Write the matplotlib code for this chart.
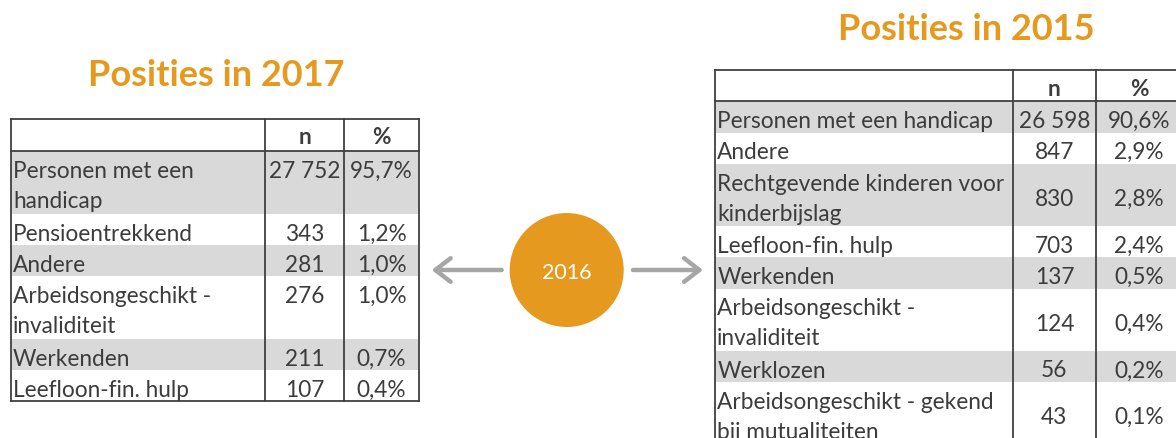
import matplotlib
matplotlib.use("Agg")
import matplotlib.pyplot as plt
from matplotlib.patches import Rectangle, Circle, FancyArrowPatch

plt.rcParams['font.family'] = ['Lato', 'DejaVu Sans']

# ---- data ----
title_2017 = "Posities in 2017"
labels_2017 = ["Personen met een\nhandicap", "Pensioentrekkend", "Andere",
               "Arbeidsongeschikt -\ninvaliditeit", "Werkenden", "Leefloon-fin. hulp"]
n_2017 = [27752, 343, 281, 276, 211, 107]
pct_2017 = [95.7, 1.2, 1.0, 1.0, 0.7, 0.4]

title_2015 = "Posities in 2015"
labels_2015 = ["Personen met een handicap", "Andere",
               "Rechtgevende kinderen voor\nkinderbijslag", "Leefloon-fin. hulp",
               "Werkenden", "Arbeidsongeschikt -\ninvaliditeit", "Werklozen",
               "Arbeidsongeschikt - gekend\nbij mutualiteiten"]
n_2015 = [26598, 847, 830, 703, 137, 124, 56, 43]
pct_2015 = [90.6, 2.9, 2.8, 2.4, 0.5, 0.4, 0.2, 0.1]

header_cols = ["n", "%"]
middle_year = "2016"

# ---- style ----
ORANGE = "#E59A1F"
TEXT = "#3C3C3C"
SHADE = "#D9D9D9"
BORDER = "#404040"
ARROW = "#A6A6A6"
BODY_FS = 16.3
TITLE_FS = 26
W, H = 1176, 439

fig = plt.figure(figsize=(W / 100, H / 100), dpi=100)
ax = fig.add_axes([0, 0, 1, 1])
ax.set_xlim(0, W)
ax.set_ylim(H, 0)
ax.axis('off')


def fmt_n(v):
    return f"{v:,}".replace(",", " ")


def fmt_pct(v):
    return f"{v:.1f}%".replace(".", ",")


def draw_table(x0, c1, c2, x1, top, header_h, line_h, labels, ns, pcts,
               num_valign):
    y = top + header_h
    ax.text((c1 + c2) / 2, top + 25, header_cols[0], ha='center', va='baseline',
            fontsize=BODY_FS, fontweight='bold', color=TEXT)
    ax.text((c2 + x1) / 2, top + 25, header_cols[1], ha='center', va='baseline',
            fontsize=BODY_FS, fontweight='bold', color=TEXT)
    for i, (lab, n, p) in enumerate(zip(labels, ns, pcts)):
        lines = lab.split("\n")
        rh = line_h * len(lines)
        if i % 2 == 0:
            ax.add_patch(Rectangle((x0, y), x1 - x0, rh, facecolor=SHADE,
                                   edgecolor='none', zorder=1))
        for k, ln in enumerate(lines):
            ax.text(x0 + 2.5, y + 26 + 30 * k, ln, ha='left', va='baseline',
                    fontsize=BODY_FS, color=TEXT, zorder=3)
        if num_valign == 'top':
            by = y + 26
        else:
            by = y + (rh - line_h) / 2 + 25.5
        ax.text((c1 + c2) / 2, by, fmt_n(n), ha='center', va='baseline',
                fontsize=BODY_FS, color=TEXT, zorder=3)
        ax.text((c2 + x1) / 2, by, fmt_pct(p), ha='center', va='baseline',
                fontsize=BODY_FS, color=TEXT, zorder=3)
        y += rh
    bottom = y
    kw = dict(color=BORDER, lw=1.3, zorder=4, solid_capstyle='projecting')
    ax.plot([x0, x1], [top, top], **kw)
    ax.plot([x0, x1], [top + header_h, top + header_h], **kw)
    ax.plot([x0, x1], [bottom, bottom], **kw)
    for xv in (x0, c1, c2, x1):
        ax.plot([xv, xv], [top, bottom], **kw)


# left table (2017)
ax.text(216, 85.5, title_2017, ha='center', va='baseline', fontsize=TITLE_FS,
        fontweight='bold', color=ORANGE)
draw_table(10.5, 265, 344, 419, 119.5, 32.5, 31.3,
           labels_2017, n_2017, pct_2017, 'top')

# right table (2015)
ax.text(966, 40, title_2015, ha='center', va='baseline', fontsize=TITLE_FS,
        fontweight='bold', color=ORANGE)
draw_table(714.7, 1012.7, 1096, 1182, 71, 31.3, 31.2,
           labels_2015, n_2015, pct_2015, 'center')

# middle circle and arrows
ax.add_patch(Circle((566.7, 271), 57, facecolor=ORANGE, edgecolor='none', zorder=2))
ax.text(566.7, 279, middle_year, ha='center', va='baseline', fontsize=15.5,
        color='white', zorder=3)
for (xa, xb) in [(501.7, 431.7), (633, 703)]:
    arr = FancyArrowPatch((xa, 271), (xb, 271),
                          arrowstyle="->,head_length=1.1,head_width=0.85",
                          mutation_scale=10, color=ARROW, lw=3.2,
                          shrinkA=0, shrinkB=0, zorder=2)
    ax.add_patch(arr)

fig.savefig("out.png", dpi=100)
